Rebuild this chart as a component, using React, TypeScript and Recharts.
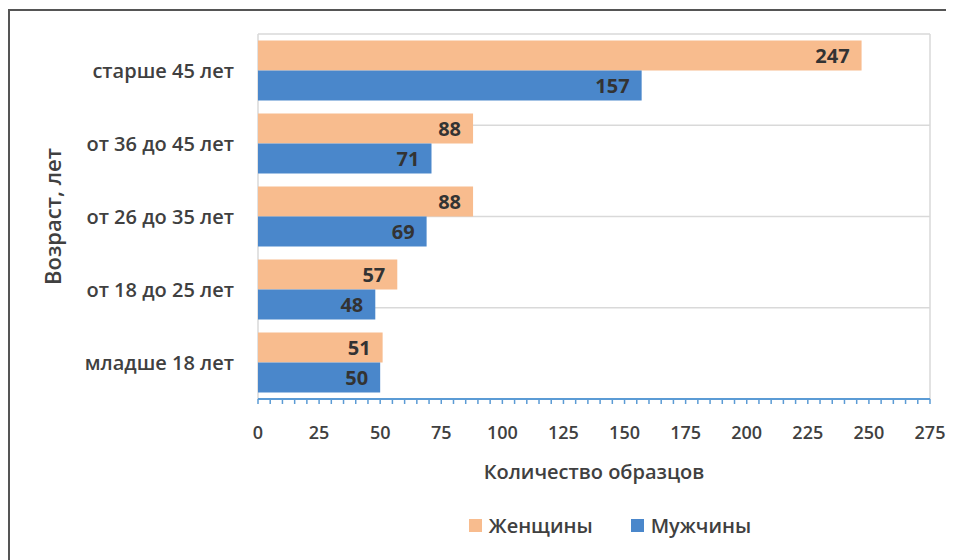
import React from 'react';
import { BarChart, Bar, XAxis, YAxis, CartesianGrid, Legend, LabelList } from 'recharts';

const categories = ['старше 45 лет', 'от 36 до 45 лет', 'от 26 до 35 лет', 'от 18 до 25 лет', 'младше 18 лет'];
const women = [247, 88, 88, 57, 51];
const men = [157, 71, 69, 48, 50];
const majorTicks = [0, 25, 50, 75, 100, 125, 150, 175, 200, 225, 250, 275];
const minorTicks = Array.from({ length: 56 }, (_, i) => i * 5);
const bandTicks = [0, 1, 2, 3, 4, 5];

const data = categories.map((c, i) => ({ cat: c, women: women[i], men: men[i] }));

const FONT = '"Open Sans", sans-serif';
const TEXT = '#404040';
const ORANGE = '#F8BC8E';
const BLUE = '#4A87CB';

const YLabel = (props: any) => {
  const vb = props.viewBox || {};
  const cx = 42;
  const cy = vb.y + vb.height / 2;
  return (
    <text x={cx} y={cy} transform={`rotate(-90 ${cx} ${cy})`} textAnchor="middle" dominantBaseline="central"
      fill={TEXT} fontFamily={FONT} fontSize={22} fontWeight={600}>
      Возраст, лет
    </text>
  );
};

const LegendContent = (props: any) => {
  const payload = props.payload || [];
  return (
    <div style={{ display: 'flex', justifyContent: 'center', alignItems: 'center', fontFamily: FONT, fontSize: 20, fontWeight: 600, color: TEXT }}>
      {payload.map((p: any, i: number) => (
        <div key={i} style={{ display: 'flex', alignItems: 'center', marginLeft: i === 0 ? 0 : 38 }}>
          <span style={{ display: 'inline-block', width: 13, height: 13, background: p.color, marginRight: 7 }} />
          <span>{p.value}</span>
        </div>
      ))}
    </div>
  );
};

export default function App() {
  return (
    <div style={{ width: 946, height: 550, borderTop: '2px solid #555', borderLeft: '2px solid #555', marginTop: 1, background: '#fff' }}>
      <BarChart
        width={944}
        height={548}
        data={data}
        layout="vertical"
        margin={{ top: 23, right: 24, left: 0, bottom: 43 }}
        barCategoryGap="9%"
        barGap={0}
      >
        <CartesianGrid xAxisId="grid" yAxisId="band" stroke="#d9d9d9" strokeWidth={1.5} />
        <XAxis xAxisId="grid" type="number" domain={[0, 275]} ticks={majorTicks} height={0} hide />
        <XAxis
          xAxisId="main"
          type="number"
          domain={[0, 275]}
          ticks={minorTicks}
          interval={0}
          tickFormatter={(v: number) => (v % 25 === 0 ? String(v) : '')}
          axisLine={{ stroke: '#5B9BD5', strokeWidth: 2 }}
          tickLine={{ stroke: '#5B9BD5', strokeWidth: 1.5 }}
          tickSize={5}
          tickMargin={22}
          height={90}
          tick={{ fill: TEXT, fontFamily: FONT, fontSize: 18, fontWeight: 600 }}
          label={{ value: 'Количество образцов', position: 'insideBottom', offset: 10, fill: TEXT, fontFamily: FONT, fontSize: 20, fontWeight: 600 }}
        />
        <YAxis yAxisId="band" type="number" domain={[0, 5]} ticks={bandTicks} reversed width={0} hide />
        <YAxis
          yAxisId="cat"
          type="category"
          dataKey="cat"
          width={248}
          axisLine={false}
          tickLine={false}
          tickSize={0}
          tickMargin={24}
          tick={{ fill: TEXT, fontFamily: FONT, fontSize: 20, fontWeight: 600 }}
          label={<YLabel />}
        />
        <Legend content={<LegendContent />} wrapperStyle={{ left: 340, width: 520, bottom: 20 }} />
        <Bar xAxisId="main" yAxisId="cat" dataKey="women" name="Женщины" fill={ORANGE} isAnimationActive={false}>
          <LabelList dataKey="women" position="insideRight" offset={12} fill="#333" fontFamily={FONT} fontSize={20} fontWeight={700} />
        </Bar>
        <Bar xAxisId="main" yAxisId="cat" dataKey="men" name="Мужчины" fill={BLUE} isAnimationActive={false}>
          <LabelList dataKey="men" position="insideRight" offset={12} fill="#333" fontFamily={FONT} fontSize={20} fontWeight={700} />
        </Bar>
      </BarChart>
    </div>
  );
}
